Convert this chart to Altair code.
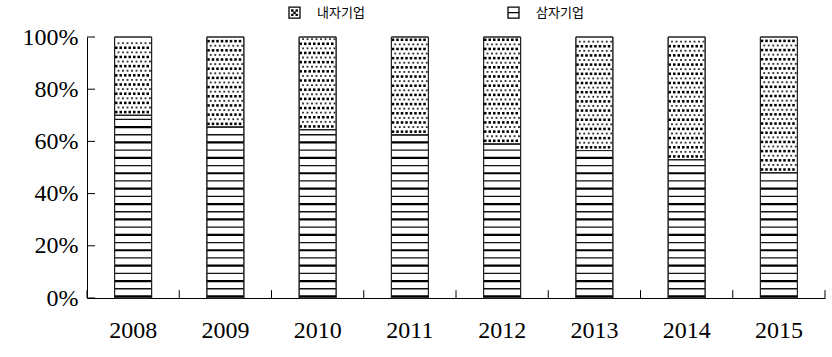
import altair as alt
import pandas as pd

# ---- data ----
years = ["2008", "2009", "2010", "2011", "2012", "2013", "2014", "2015"]
samja_share = [0.70, 0.655, 0.645, 0.625, 0.59, 0.565, 0.53, 0.48]   # 삼자기업
categories = ["내자기업", "삼자기업"]
y_ticks = [0, 0.2, 0.4, 0.6, 0.8, 1.0]

df = pd.DataFrame({"year": years, "samja": samja_share})
df["naeja"] = [round(1 - v, 3) for v in samja_share]

W, H = 738, 261
BAR_W = 37
SERIF = "Liberation Serif"
KFONT = "Noto Sans CJK KR"

base = alt.Chart(df)

x_axis = alt.Axis(title=None, labelAngle=0, labelFont=SERIF, labelFontSize=24,
                  labelColor="black", domainColor="black", domainWidth=1,
                  ticks=False, labelPadding=20)
x_scale = alt.Scale(paddingInner=0, paddingOuter=0)
y_scale = alt.Scale(domain=[0, 1], nice=False)
y_axis = alt.Axis(title=None, values=y_ticks, format=".0%", labelFont=SERIF,
                  labelFontSize=24, labelColor="black", domainColor="black",
                  domainWidth=1, ticks=False, grid=False, labelPadding=9)


def X(**kw):
    return alt.X("year:O", scale=x_scale, axis=x_axis, **kw)


def Y(field):
    return alt.Y(field, scale=y_scale, axis=y_axis)


bar_samja = base.mark_bar(width=BAR_W, fill="white", stroke="#222", strokeWidth=1).encode(
    x=X(), y=Y("samja:Q"), y2=alt.datum(0)
)
bar_naeja = base.mark_bar(width=BAR_W, fill="white", stroke="#222", strokeWidth=1).encode(
    x=X(), y=Y("samja:Q"), y2=alt.datum(1)
)

# legend carrier (invisible points)
sq = "M-1,-1H1V1H-1Z"
path_naeja = sq + " M-0.5,-0.5H-0.3V-0.3H-0.5Z M0.3,-0.5H0.5V-0.3H0.3Z M-0.1,-0.1H0.1V0.1H-0.1Z M-0.5,0.3H-0.3V0.5H-0.5Z M0.3,0.3H0.5V0.5H0.3Z"
path_samja = sq + " M-1,0H1"
legend_layer = base.transform_fold(["naeja", "samja"], as_=["key", "v"]).transform_calculate(
    cat="datum.key == 'naeja' ? '내자기업' : '삼자기업'"
).mark_point(opacity=0).encode(
    x=X(),
    y=Y("v:Q"),
    shape=alt.Shape("cat:N", scale=alt.Scale(domain=categories, range=[path_naeja, path_samja]),
                    legend=alt.Legend(title=None, orient="none", legendX=201, legendY=-31,
                                      direction="horizontal", symbolSize=121,
                                      symbolStrokeColor="black", symbolFillColor="white",
                                      symbolStrokeWidth=1.3, symbolOpacity=1,
                                      labelFont=KFONT, labelFontSize=13, labelColor="black",
                                      labelOffset=16, columnPadding=140, padding=0)),
)

# horizontal hatching in 삼자기업 part
stripes = base.transform_calculate(k="sequence(0, 40)").transform_flatten(["k"]).transform_calculate(
    sy="0.006 + datum.k * 0.0295", par="datum.k % 2"
).transform_filter("datum.sy < datum.samja - 0.006")
stripes_thick = stripes.transform_filter("datum.par == 0").mark_tick(
    size=BAR_W, thickness=2.2, color="black", opacity=1
).encode(x=X(), y=Y("sy:Q"))
stripes_thin = stripes.transform_filter("datum.par == 1").mark_tick(
    size=BAR_W, thickness=1.3, color="#111", opacity=1
).encode(x=X(), y=Y("sy:Q"))

# dotted fill in 내자기업 part (16 sub-slots centred in a 42-slot offset band)
dots = base.transform_calculate(r="sequence(0, 60)").transform_flatten(["r"]).transform_calculate(
    dy="datum.samja + (datum.r + 0.7) * 0.0176", rp="datum.r % 2"
).transform_filter("datum.dy < 0.992").transform_calculate(c="sequence(0, 8)").transform_flatten(
    ["c"]).transform_calculate(col="13 + 2 * datum.c + datum.rp")
xoff = alt.XOffset("col:O", scale=alt.Scale(domain=list(range(42)), paddingInner=0, paddingOuter=0))
dots_big = dots.transform_filter("datum.rp == 0").mark_square(size=6.5, color="#000", opacity=1).encode(
    x=X(), xOffset=xoff, y=Y("dy:Q"))
dots_small = dots.transform_filter("datum.rp == 1").mark_square(size=3.5, color="#333", opacity=1).encode(
    x=X(), xOffset=xoff, y=Y("dy:Q"))

outline = base.mark_bar(width=BAR_W, fillOpacity=0, stroke="#222", strokeWidth=1).encode(
    x=X(), y=Y("samja:Q"), y2=alt.datum(0))
outline2 = base.mark_bar(width=BAR_W, fillOpacity=0, stroke="#222", strokeWidth=1).encode(
    x=X(), y=Y("samja:Q"), y2=alt.datum(1))

# inward ticks
xt = base.mark_rule(color="black", strokeWidth=1).encode(
    x=X(bandPosition=0), y=alt.datum(0, scale=y_scale, axis=y_axis), y2=alt.datum(0.03))
xt_end = base.transform_filter("datum.year == '2015'").mark_rule(color="black", strokeWidth=1).encode(
    x=X(bandPosition=1), y=alt.datum(0, scale=y_scale, axis=y_axis), y2=alt.datum(0.03))
yt = alt.Chart(pd.DataFrame({"t": y_ticks})).mark_rule(color="black", strokeWidth=1).encode(
    y=Y("t:Q"), x=alt.value(0), x2=alt.value(8))

chart = alt.layer(
    bar_samja, legend_layer, bar_naeja, stripes_thin, stripes_thick, dots_small, dots_big,
    outline, outline2, xt, xt_end, yt
).properties(
    width=W, height=H, autosize="none",
    padding={"left": 87, "top": 37, "right": 7, "bottom": 59},
    background="white",
).configure_view(stroke=None)

chart.save("out.html", embed_options={"renderer": "svg", "actions": False})
